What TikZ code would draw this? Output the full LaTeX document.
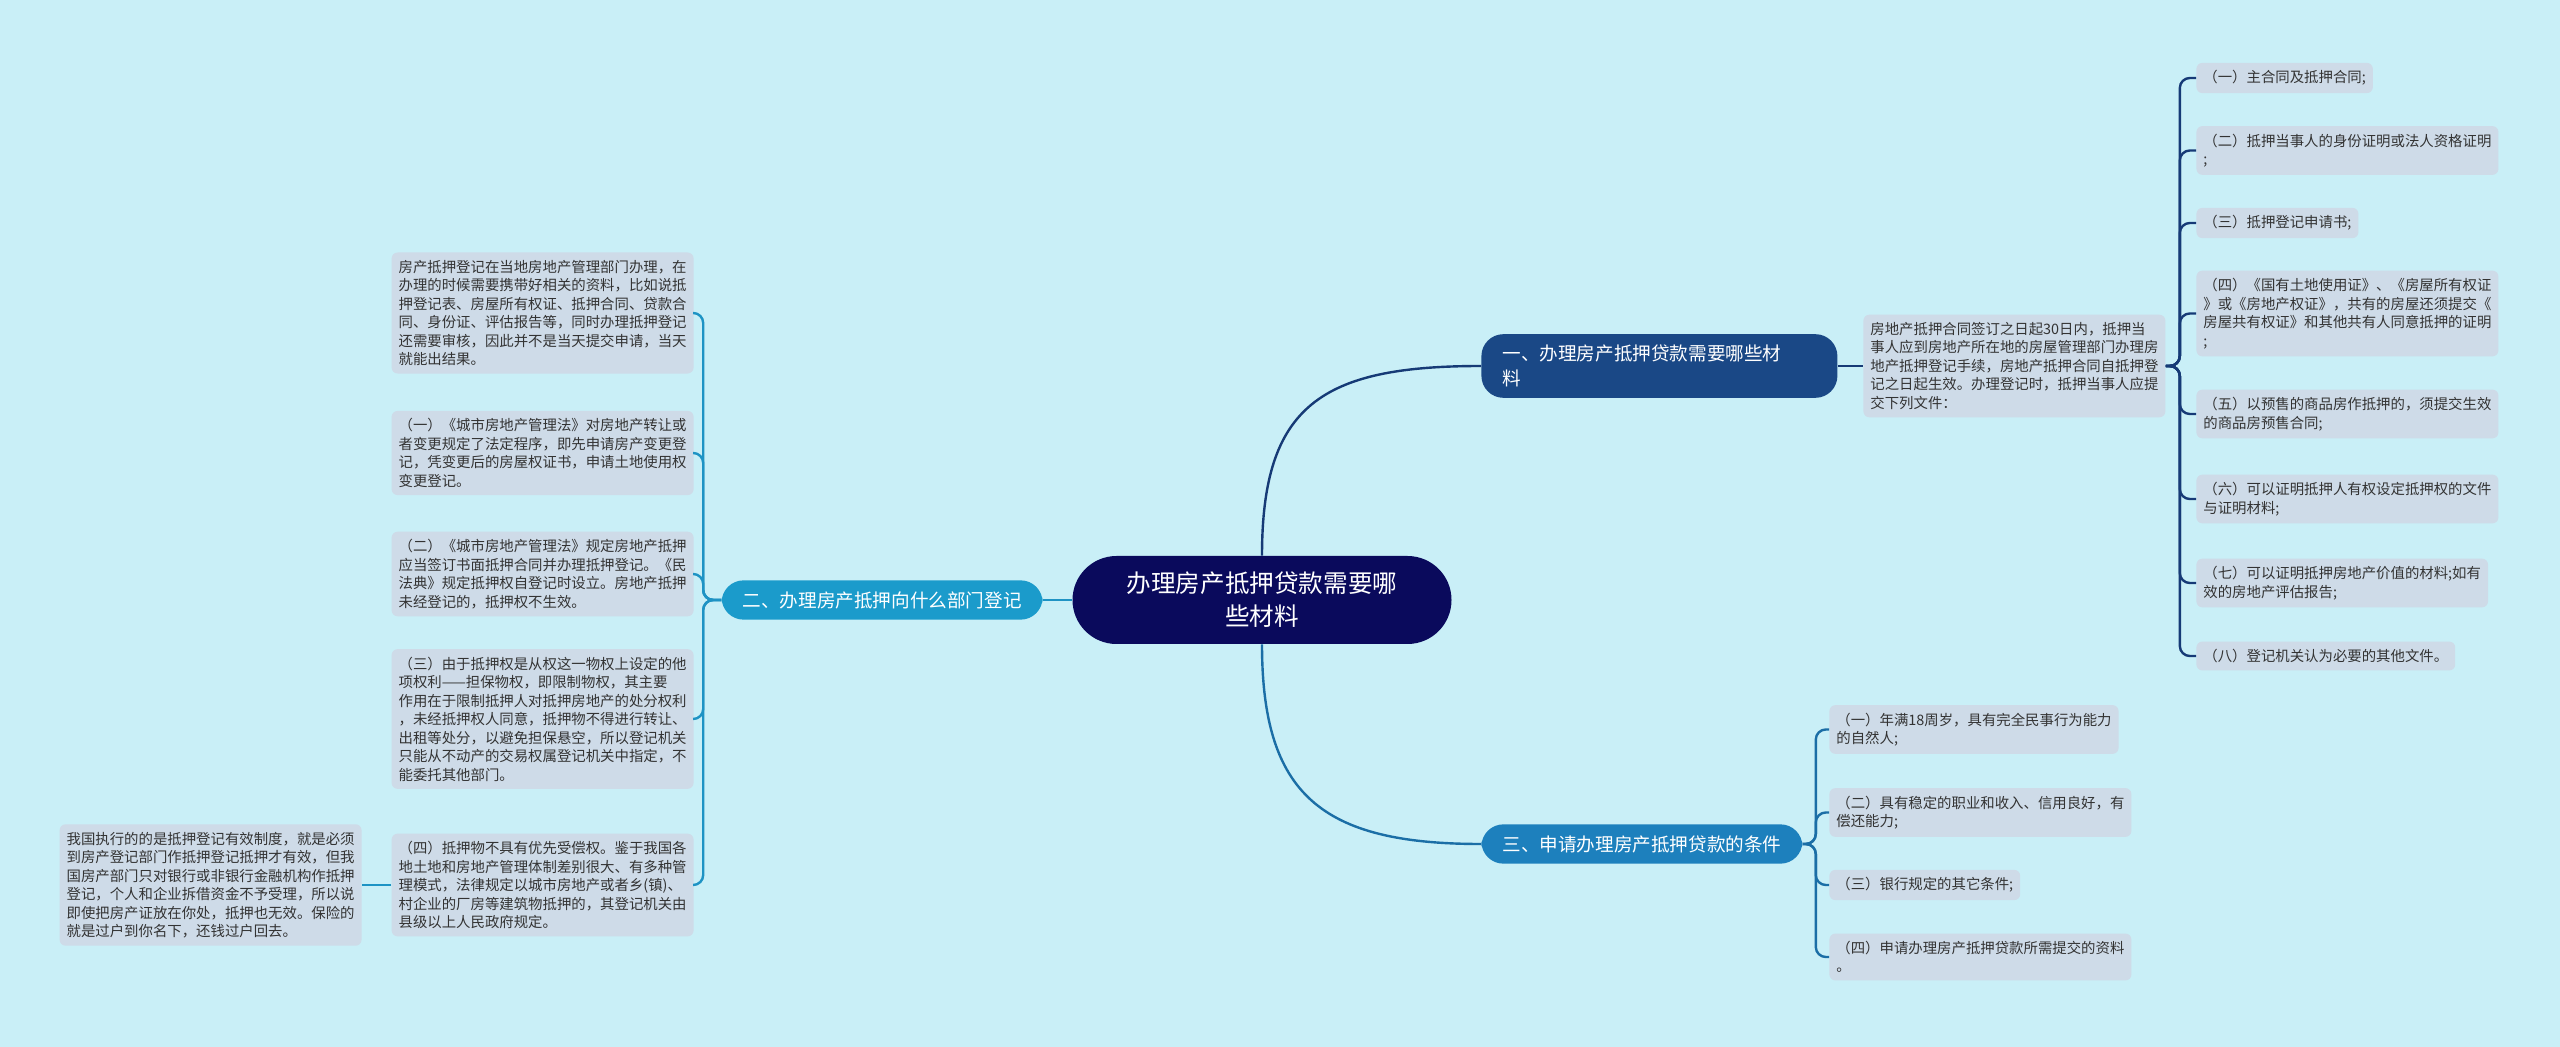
\documentclass[tikz,border=0pt]{standalone}
\usepackage{fontspec}
\setmainfont{Noto Sans CJK SC}
\usepackage{tikz}
\definecolor{mpbg}{HTML}{C9EFF7}
\definecolor{mpnavy}{HTML}{0A0A5C}
\definecolor{mpone}{HTML}{1A4886}
\definecolor{mptwo}{HTML}{1B9BCB}
\definecolor{mpthree}{HTML}{1D80BD}
\definecolor{mpleaf}{HTML}{CEDBE8}
\definecolor{mptext}{HTML}{333333}
\definecolor{mplineone}{HTML}{163A76}
\definecolor{mplinetwo}{HTML}{1E93C4}
\definecolor{mplinethree}{HTML}{1B6EA6}

\tikzset{
  rootbox/.style={fill=mpnavy, text=white, rounded corners=22pt, align=center,
    minimum width=189.5pt, minimum height=44pt, inner sep=2pt,
    font=\fontsize{12.3pt}{16.5pt}\selectfont},
  branchbox/.style={text=white, rounded corners=11pt, align=left,
    inner xsep=10.5pt, inner ysep=5.5pt, font=\fontsize{9.3pt}{12.25pt}\selectfont},
  leaf/.style={fill=mpleaf, text=mptext, rounded corners=3pt, align=left,
    inner xsep=3.5pt, inner ysep=3.8pt, font=\fontsize{7.2pt}{9.25pt}\selectfont},
  wire/.style={line width=1.2pt, rounded corners=5pt}
}

\begin{document}
\begin{tikzpicture}[x=0.5pt, y=-0.5pt]
  \fill[mpbg] (0,0) rectangle (2560,1047);
  \useasboundingbox (0,0) rectangle (2560,1047);

  % centre and main branches
  \node[rootbox] (root) at (1262,600) {办理房产抵押贷款需要哪\\些材料};
  \node[branchbox, fill=mpone, text width=157pt, anchor=west] (bone) at (1481,366) {一、办理房产抵押贷款需要哪些材\\料};
  \node[branchbox, fill=mptwo, anchor=east] (btwo) at (1043,600) {二、办理房产抵押向什么部门登记};
  \node[branchbox, fill=mpthree, anchor=west] (bthree) at (1481,844) {三、申请办理房产抵押贷款的条件};

  % branch one
  \node[leaf, anchor=west] (inter) at (1863,366) {房地产抵押合同签订之日起30日内，抵押当\\事人应到房地产所在地的房屋管理部门办理房\\地产抵押登记手续，房地产抵押合同自抵押登\\记之日起生效。办理登记时，抵押当事人应提\\交下列文件：};
  \node[leaf, anchor=west] (rone) at (2196,78) {（一）主合同及抵押合同;};
  \node[leaf, anchor=west] (rtwo) at (2196,150.5) {（二）抵押当事人的身份证明或法人资格证明\\;};
  \node[leaf, anchor=west] (rthree) at (2196,223) {（三）抵押登记申请书;};
  \node[leaf, anchor=west] (rfour) at (2196,313.5) {（四）《国有土地使用证》、《房屋所有权证\\》或《房地产权证》，共有的房屋还须提交《\\房屋共有权证》和其他共有人同意抵押的证明\\;};
  \node[leaf, anchor=west] (rfive) at (2196,414) {（五）以预售的商品房作抵押的，须提交生效\\的商品房预售合同;};
  \node[leaf, anchor=west] (rsix) at (2196,499) {（六）可以证明抵押人有权设定抵押权的文件\\与证明材料;};
  \node[leaf, anchor=west] (rseven) at (2196,583) {（七）可以证明抵押房地产价值的材料;如有\\效的房地产评估报告;};
  \node[leaf, anchor=west] (reight) at (2196,656) {（八）登记机关认为必要的其他文件。};

  % branch two
  \node[leaf, anchor=east] (lzero) at (694,313) {房产抵押登记在当地房地产管理部门办理，在\\办理的时候需要携带好相关的资料，比如说抵\\押登记表、房屋所有权证、抵押合同、贷款合\\同、身份证、评估报告等，同时办理抵押登记\\还需要审核，因此并不是当天提交申请，当天\\就能出结果。};
  \node[leaf, anchor=east] (lone) at (694,453) {（一）《城市房地产管理法》对房地产转让或\\者变更规定了法定程序，即先申请房产变更登\\记，凭变更后的房屋权证书，申请土地使用权\\变更登记。};
  \node[leaf, anchor=east] (ltwo) at (694,574) {（二）《城市房地产管理法》规定房地产抵押\\应当签订书面抵押合同并办理抵押登记。《民\\法典》规定抵押权自登记时设立。房地产抵押\\未经登记的，抵押权不生效。};
  \node[leaf, anchor=east] (lthree) at (694,719) {（三）由于抵押权是从权这一物权上设定的他\\项权利——担保物权，即限制物权，其主要\\作用在于限制抵押人对抵押房地产的处分权利\\，未经抵押权人同意，抵押物不得进行转让、\\出租等处分，以避免担保悬空，所以登记机关\\只能从不动产的交易权属登记机关中指定，不\\能委托其他部门。};
  \node[leaf, anchor=east] (lfour) at (694,885) {（四）抵押物不具有优先受偿权。鉴于我国各\\地土地和房地产管理体制差别很大、有多种管\\理模式，法律规定以城市房地产或者乡(镇)、\\村企业的厂房等建筑物抵押的，其登记机关由\\县级以上人民政府规定。};
  \node[leaf, anchor=east] (lnote) at (362,885) {我国执行的的是抵押登记有效制度，就是必须\\到房产登记部门作抵押登记抵押才有效，但我\\国房产部门只对银行或非银行金融机构作抵押\\登记，个人和企业拆借资金不予受理，所以说\\即使把房产证放在你处，抵押也无效。保险的\\就是过户到你名下，还钱过户回去。};

  % branch three
  \node[leaf, anchor=west] (cone) at (1829,729.5) {（一）年满18周岁，具有完全民事行为能力\\的自然人;};
  \node[leaf, anchor=west] (ctwo) at (1829,812.5) {（二）具有稳定的职业和收入、信用良好，有\\偿还能力;};
  \node[leaf, anchor=west] (cthree) at (1829,885) {（三）银行规定的其它条件;};
  \node[leaf, anchor=west] (cfour) at (1829,957) {（四）申请办理房产抵押贷款所需提交的资料\\。};

  % connectors
  \draw[wire, mplineone] (root.north) .. controls +(0,-150) and +(-160,0) .. (bone.west);
  \draw[wire, mplinetwo] (root.west) -- (btwo.east);
  \draw[wire, mplinethree] (root.south) .. controls +(0,150) and +(-160,0) .. (bthree.west);
  \draw[wire, mplineone] (bone.east) -- (inter.west);
  \foreach \leafname in {rone,rtwo,rthree,rfour,rfive,rsix,rseven,reight}
    \draw[wire, mplineone] (inter.east) -- ++(7pt,0) |- (\leafname.west);
  \foreach \leafname in {lzero,lone,ltwo,lthree,lfour}
    \draw[wire, mplinetwo] (btwo.west) -- ++(-9pt,0) |- (\leafname.east);
  \draw[wire, mplinetwo] (lfour.west) -- (lnote.east);
  \foreach \leafname in {cone,ctwo,cthree,cfour}
    \draw[wire, mplinethree] (bthree.east) -- ++(6.5pt,0) |- (\leafname.west);
\end{tikzpicture}
\end{document}
